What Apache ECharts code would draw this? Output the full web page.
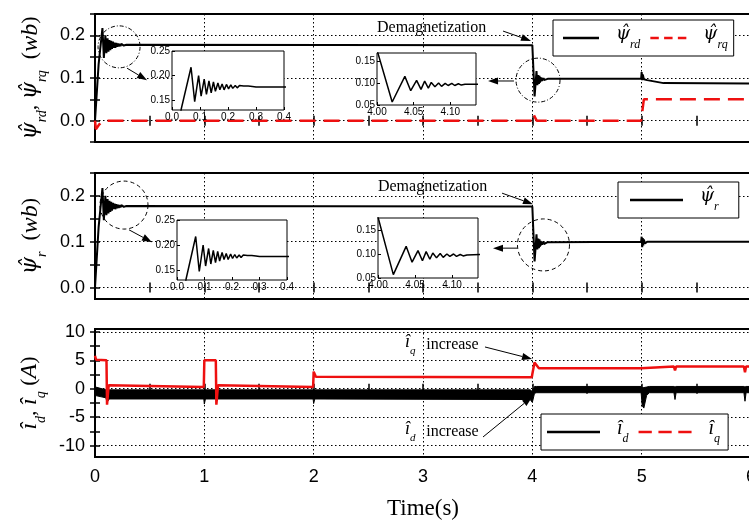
<!DOCTYPE html>
<html>
<head>
<meta charset="utf-8">
<script src="https://cdn.jsdelivr.net/npm/echarts@6/dist/echarts.min.js"></script>
<style>
html, body { margin: 0; padding: 0; background: #fff; }
#c { width: 749px; height: 521px; }
</style>
</head>
<body>
<div id="c"></div>
<script>
// ---------- data ----------
// Rotor flux during start-up (s, Wb)
const startT   = [0, 0.033, 0.068, 0.081, 0.095, 0.104, 0.115, 0.123, 0.132, 0.140, 0.148, 0.155, 0.164, 0.171, 0.179, 0.186, 0.195, 0.202, 0.210, 0.217, 0.226, 0.233, 0.241, 0.248, 0.256, 0.263, 0.272, 0.279, 0.287, 0.294, 0.300];
const startPsi = [0, 0.132, 0.217, 0.147, 0.200, 0.158, 0.193, 0.162, 0.189, 0.165, 0.187, 0.168, 0.185, 0.171, 0.183, 0.171, 0.182, 0.173, 0.181, 0.174, 0.180, 0.175, 0.180, 0.176, 0.179, 0.176, 0.179, 0.177, 0.178, 0.177, 0.177];
// Rotor flux during demagnetization at 4 s
const demagT   = [4.000, 4.0207, 4.038, 4.046, 4.054, 4.060, 4.065, 4.070, 4.074, 4.079, 4.084, 4.088, 4.093, 4.097, 4.102, 4.106, 4.111, 4.115, 4.120];
const demagPsi = [0.177, 0.057, 0.116, 0.083, 0.107, 0.086, 0.105, 0.089, 0.102, 0.092, 0.101, 0.093, 0.100, 0.095, 0.100, 0.095, 0.099, 0.096, 0.098];
// d-axis flux after demagnetization (load step at 5 s)
const rdTailT = [4.14, 4.995, 5.000, 5.005, 5.010, 5.020, 5.050, 5.200, 6.000];
const rdTailV = [0.098, 0.098, 0.114, 0.095, 0.108, 0.097, 0.095, 0.088, 0.087];
// flux magnitude after demagnetization
const rTailT = [4.14, 4.995, 5.000, 5.005, 5.010, 5.015, 5.020, 5.030, 5.050, 6.000];
const rTailV = [0.099, 0.100, 0.111, 0.088, 0.108, 0.092, 0.105, 0.096, 0.100, 0.100];
// q-axis flux
const rqT = [0, 0.008, 0.020, 0.035, 0.060, 0.100, 3.995, 4.010, 4.040, 4.995, 5.020, 6.000];
const rqV = [0, -0.020, -0.022, -0.010, -0.003, 0, 0, 0.015, 0, 0, 0.050, 0.050];
// d-axis current: envelope of the ripple band (A)
const idT    = [0, 0.005, 0.100, 0.110, 0.130, 0.995, 1.000, 1.010, 1.995, 2.000, 2.010, 3.980, 4.000, 4.020, 4.040, 4.995, 5.005, 5.020, 5.045, 5.070, 5.295, 5.305, 5.315, 5.935, 5.945, 5.955, 6.000];
const idHigh = [0, 0.3, -0.2, -0.2, -0.2, -0.2, -0.2, -0.2, -0.2, -0.2, -0.2, -0.2, -0.5, 0.4, 0.4, 0.4, 0.2, 0.2, 0.3, 0.4, 0.4, 0.3, 0.4, 0.4, 0.3, 0.4, 0.4];
const idLow  = [-0.3, -1.2, -1.6, -2.4, -1.8, -1.8, -2.7, -1.8, -1.8, -2.6, -1.8, -1.9, -2.4, -0.8, -0.7, -0.7, -3.0, -3.4, -1.2, -0.7, -0.7, -1.9, -0.7, -0.7, -2.2, -0.7, -0.7];
// q-axis current (A)
const iqT = [0, 0.010, 0.105, 0.110, 0.125, 0.140, 0.995, 1.000, 1.105, 1.110, 1.125, 1.140, 1.995, 2.000, 2.020, 3.995, 4.000, 4.020, 4.060, 4.995, 5.005, 5.295, 5.305, 5.315, 5.935, 5.945, 5.955, 6.000];
const iqV = [5.8, 5.1, 5.0, -2.8, 0.6, 0.3, 0.3, 5.0, 5.0, -2.8, 0.6, 0.3, 0.3, 3.0, 2.1, 2.0, 2.6, 4.6, 3.6, 3.6, 3.9, 3.9, 3.2, 3.9, 3.9, 2.9, 3.9, 3.9];

// axis ticks and labels
const timeLabels     = [0, 1, 2, 3, 4, 5, 6];
const timeTicks      = [0, 0.5, 1, 1.5, 2, 2.5, 3, 3.5, 4, 4.5, 5, 5.5, 6];
const fluxLabels     = [0, 0.1, 0.2];
const fluxTicksTop   = [-0.05, 0, 0.05, 0.1, 0.15, 0.2, 0.25];
const fluxTicksMid   = [0, 0.05, 0.1, 0.15, 0.2, 0.25];
const currentLabels  = [-10, -5, 0, 5, 10];
const currentTicks   = [-10, -7.5, -5, -2.5, 0, 2.5, 5, 7.5, 10];
const startLabelsX   = [0, 0.1, 0.2, 0.3, 0.4];
const startLabelsY   = [0.15, 0.20, 0.25];
const demagLabelsX   = [4.00, 4.05, 4.10];
const demagLabelsY   = [0.05, 0.10, 0.15];

// ---------- helpers ----------
const zip = (ts, vs) => ts.map((t, i) => [t, vs[i]]);
const psiRd = zip(startT, startPsi).concat(zip(demagT, demagPsi), zip(rdTailT, rdTailV));
const psiR  = zip(startT, startPsi).concat(zip(demagT, demagPsi), zip(rTailT, rTailV));
const psiRq = zip(rqT, rqV);
const iq    = zip(iqT, iqV);
const idBand = idT.map((t, i) => [t, idLow[i], idHigh[i]]);

const RED = '#ee1010';
const SERIF = 'Liberation Serif';
const GREEK = 'DejaVu Serif';
const SANS = 'Liberation Sans';

function mathRich(size) {
  return {
    g: { fontFamily: GREEK, fontStyle: 'italic', fontSize: size - 2, lineHeight: size + 6, verticalAlign: 'top', color: '#000' },
    m: { fontFamily: SERIF, fontStyle: 'italic', fontSize: size, lineHeight: size + 6, verticalAlign: 'top', color: '#000' },
    s: { fontFamily: SERIF, fontStyle: 'italic', fontSize: Math.round(size * 0.6), lineHeight: Math.round(size * 0.5), verticalAlign: 'bottom', color: '#000' },
    p: { fontFamily: SERIF, fontSize: size - 2, lineHeight: size + 6, verticalAlign: 'top', color: '#000' },
    u: { fontFamily: SERIF, fontStyle: 'italic', fontSize: size, lineHeight: size + 6, verticalAlign: 'top', color: '#000' }
  };
}

const PSI = 'ψ\u0302';
const dotted = { show: true, lineStyle: { color: '#000', width: 1, type: [1.5, 2.5] } };
const tickStyle = { color: '#000', width: 1.5 };

function tickOnlyAxis(extra, values) {
  return Object.assign({
    type: 'value',
    axisLine: { show: false },
    axisLabel: { show: false },
    splitLine: { show: false },
    axisTick: { show: true, inside: true, length: 5, lineStyle: tickStyle, customValues: values }
  }, extra);
}

// ---------- panels ----------
const panels = [
  { top: 14,  height: 128, min: -0.05, max: 0.25, split: 3, labels: fluxLabels, ticks: fluxTicksTop,
    fmt: v => v.toFixed(1), name: `{g|${PSI}}{s|rd}{p|, }{g|${PSI}}{s|rq}{p|  (}{u|wb}{p|)}` },
  { top: 173, height: 126, min: -0.025, max: 0.25, split: 3, labels: fluxLabels, ticks: fluxTicksMid,
    fmt: v => v.toFixed(1), name: `{g|${PSI}}{s|r}{p|  (}{u|wb}{p|)}` },
  { top: 329, height: 128, min: -12, max: 10.5, split: 4, labels: currentLabels, ticks: currentTicks,
    fmt: v => String(v), name: `{m|î}{s|d}{p|, }{m|î}{s|q}{p| (}{u|A}{p|)}` }
];

const grids = [], xAxes = [], yAxes = [];
panels.forEach((p, i) => {
  grids.push({ left: 95, top: p.top, width: 656, height: p.height, show: true,
               borderColor: '#000', borderWidth: 2, backgroundColor: 'transparent', outerBoundsMode: 'none' });
  p.xi = xAxes.length;
  xAxes.push({
    gridIndex: i, type: 'value', min: 0, max: 6, interval: 1, position: 'bottom',
    axisLine: { show: false }, axisTick: { show: false },
    axisLabel: { show: i === 2, customValues: timeLabels, color: '#000', fontFamily: SANS, fontSize: 18, margin: 11 },
    splitLine: dotted,
    name: i === 2 ? 'Time(s)' : '', nameLocation: 'middle', nameGap: 40,
    nameTextStyle: { fontFamily: SERIF, fontSize: 23, color: '#000' }
  });
  xAxes.push(tickOnlyAxis({ gridIndex: i, min: 0, max: 6, position: 'bottom' }, timeTicks));
  xAxes.push(tickOnlyAxis({ gridIndex: i, min: 0, max: 6, position: 'top' }, timeTicks));
  p.yi = yAxes.length;
  yAxes.push({
    gridIndex: i, type: 'value', min: p.min, max: p.max, splitNumber: p.split, position: 'left',
    axisLine: { show: false }, axisTick: { show: false },
    axisLabel: { customValues: p.labels, formatter: p.fmt, color: '#000', fontFamily: SANS, fontSize: 18, margin: 10 },
    splitLine: dotted,
    name: p.name, nameLocation: 'middle', nameRotate: 90, nameGap: 39,
    nameTextStyle: { rich: mathRich(24) }
  });
  yAxes.push(tickOnlyAxis({ gridIndex: i, min: p.min, max: p.max, position: 'left' }, p.ticks));
  yAxes.push(tickOnlyAxis({ gridIndex: i, min: p.min, max: p.max, position: 'right' }, p.ticks));
});

// ---------- zoomed insets ----------
const insets = [
  { left: 172, top: 51,  width: 112, height: 59, xr: [0, 0.4],     yr: [0.13, 0.25], xl: startLabelsX, yl: startLabelsY, xd: 1, data: psiRd },
  { left: 377, top: 53,  width: 99,  height: 52, xr: [4.0, 4.135], yr: [0.05, 0.17], xl: demagLabelsX, yl: demagLabelsY, xd: 2, data: psiRd },
  { left: 177, top: 220, width: 110, height: 60, xr: [0, 0.4],     yr: [0.13, 0.25], xl: startLabelsX, yl: startLabelsY, xd: 1, data: psiR },
  { left: 378, top: 218, width: 100, height: 60, xr: [4.0, 4.135], yr: [0.05, 0.175], xl: demagLabelsX, yl: demagLabelsY, xd: 2, data: psiR }
];
const insetLabel = { color: '#000', fontFamily: SANS, fontSize: 10 };
insets.forEach(s => {
  const g = grids.length;
  grids.push({ left: s.left, top: s.top, width: s.width, height: s.height, show: true, z: 5,
               borderColor: '#000', borderWidth: 1, backgroundColor: '#fff', outerBoundsMode: 'none' });
  s.xi = xAxes.length;
  xAxes.push({ gridIndex: g, type: 'value', min: s.xr[0], max: s.xr[1], z: 6,
    axisLine: { show: false }, splitLine: { show: false },
    axisTick: { show: true, inside: true, length: 3, customValues: s.xl, lineStyle: { color: '#000', width: 1 } },
    axisLabel: Object.assign({ customValues: s.xl, margin: 2, formatter: v => v.toFixed(s.xd) }, insetLabel) });
  s.yi = yAxes.length;
  yAxes.push({ gridIndex: g, type: 'value', min: s.yr[0], max: s.yr[1], z: 6,
    axisLine: { show: false }, splitLine: { show: false },
    axisTick: { show: true, inside: true, length: 3, customValues: s.yl, lineStyle: { color: '#000', width: 1 } },
    axisLabel: Object.assign({ customValues: s.yl, margin: 2, formatter: v => v.toFixed(2) }, insetLabel) });
});

// ---------- series ----------
const base = { type: 'line', symbol: 'none', animation: false, smooth: false };
const series = [
  Object.assign({}, base, { name: 'ψrd', xAxisIndex: panels[0].xi, yAxisIndex: panels[0].yi, data: psiRd,
    lineStyle: { color: '#000', width: 2 }, itemStyle: { color: '#000' } }),
  Object.assign({}, base, { name: 'ψrq', xAxisIndex: panels[0].xi, yAxisIndex: panels[0].yi, data: psiRq,
    lineStyle: { color: RED, width: 2.5, type: [16, 8] }, itemStyle: { color: RED } }),
  Object.assign({}, base, { name: 'ψr', xAxisIndex: panels[1].xi, yAxisIndex: panels[1].yi, data: psiR,
    lineStyle: { color: '#000', width: 2 }, itemStyle: { color: '#000' } }),
  {
    // ripple band of the d-axis current, filled between its lower and upper envelope
    type: 'custom', name: 'îd', xAxisIndex: panels[2].xi, yAxisIndex: panels[2].yi,
    data: idBand, encode: { x: 0, y: [1, 2] }, clip: true, itemStyle: { color: '#000' }, z: 2,
    renderItem: (params, api) => {
      if (params.dataIndex !== 0) return null;
      const upper = idBand.map(d => api.coord([d[0], d[2]]));
      const lower = idBand.map(d => api.coord([d[0], d[1]])).reverse();
      return { type: 'polygon', shape: { points: upper.concat(lower) },
               style: { fill: '#000', stroke: '#000', lineWidth: 1 } };
    }
  },
  Object.assign({}, base, { name: 'îq', xAxisIndex: panels[2].xi, yAxisIndex: panels[2].yi, data: iq, z: 3,
    lineStyle: { color: RED, width: 2.5 }, itemStyle: { color: RED } })
];
insets.forEach((s, k) => {
  series.push(Object.assign({}, base, { name: 'zoom' + k, xAxisIndex: s.xi, yAxisIndex: s.yi, data: s.data, z: 7,
    lineStyle: { color: '#000', width: 1.5 } }));
});

// ---------- legends ----------
const legendText = {
  'ψrd': `{g|${PSI}}{s|rd}`, 'ψrq': `{g|${PSI}}{s|rq}`, 'ψr': `{g|${PSI}}{s|r}`,
  'îd': '{m|î}{s|d}', 'îq': '{m|î}{s|q}'
};
const legendRich = mathRich(20);
legendRich.g.padding = [0, 0, 0, 12];
legendRich.m.padding = [0, 0, 0, 12];
const SOLID_ICON = 'path://M0,0H40V3H0Z';
const DASH_ICON_A = 'path://M0,0H8V3H0Z M13,0H21V3H13Z M26,0H34V3H26Z';
const DASH_ICON_B = 'path://M0,0H12V3H0Z M18,0H30V3H18Z M36,0H48V3H36Z';
function legendBox(extra) {
  return Object.assign({
    orient: 'horizontal', selectedMode: false, z: 20, symbolKeepAspect: false,
    itemHeight: 2.5,
    borderColor: '#000', borderWidth: 1, borderRadius: 0, backgroundColor: '#fff',
    formatter: n => legendText[n], textStyle: { rich: legendRich }
  }, extra);
}
const legends = [
  legendBox({ left: 553, top: 20, itemWidth: 36, itemGap: 10, padding: [5, 6, 5, 10],
    data: [{ name: 'ψrd', icon: SOLID_ICON, itemStyle: { color: '#000' } },
           { name: 'ψrq', icon: DASH_ICON_A, itemStyle: { color: RED } }] }),
  legendBox({ left: 618, top: 182, itemWidth: 53, itemGap: 10, padding: [5, 20, 5, 12],
    data: [{ name: 'ψr', icon: SOLID_ICON, itemStyle: { color: '#000' } }] }),
  legendBox({ left: 541, top: 414, itemWidth: 53, itemGap: 10, padding: [5, 8, 5, 6],
    data: [{ name: 'îd', icon: SOLID_ICON, itemStyle: { color: '#000' } },
           { name: 'îq', icon: DASH_ICON_B, itemStyle: { color: RED } }] })
];

const chart = echarts.init(document.getElementById('c'));
chart.setOption({
  animation: false,
  backgroundColor: '#fff',
  textStyle: { fontFamily: SANS },
  grid: grids,
  xAxis: xAxes,
  yAxis: yAxes,
  legend: legends,
  series: series
});

// ---------- annotations (anchored in data units) ----------
const toPx = (g, t, v) => chart.convertToPixel({ xAxisIndex: panels[g].xi, yAxisIndex: panels[g].yi }, [t, v]);

function arrow(p0, p1) {
  const dx = p1[0] - p0[0], dy = p1[1] - p0[1];
  const len = Math.hypot(dx, dy), ux = dx / len, uy = dy / len;
  const hl = 10, hw = 3.5;
  const bx = p1[0] - ux * hl, by = p1[1] - uy * hl;
  return [
    { type: 'line', z: 30, silent: true, shape: { x1: p0[0], y1: p0[1], x2: bx, y2: by }, style: { stroke: '#000', lineWidth: 1 } },
    { type: 'polygon', z: 30, silent: true,
      shape: { points: [[p1[0], p1[1]], [bx - uy * hw, by + ux * hw], [bx + uy * hw, by - ux * hw]] },
      style: { fill: '#000' } }
  ];
}
function ring(c, r, dash) {
  return { type: 'circle', z: 30, silent: true, shape: { cx: c[0], cy: c[1], r: r },
           style: { fill: 'none', stroke: '#000', lineWidth: 1, lineDash: dash } };
}
function label(p, text, size) {
  return { type: 'text', z: 30, silent: true, x: p[0], y: p[1],
           style: { text: text, fontFamily: SERIF, fontSize: size, fill: '#000', align: 'left', verticalAlign: 'middle', rich: mathRich(18) } };
}

const dashDot = [4, 2, 1, 2];
const dashed = [4, 3];
let g = [];
// top panel
g.push(ring(toPx(0, 0.22, 0.173), 21, dashDot));
g = g.concat(arrow(toPx(0, 0.293, 0.123), toPx(0, 0.476, 0.095)));
g.push(ring(toPx(0, 4.052, 0.095), 22, dashDot));
g = g.concat(arrow(toPx(0, 3.832, 0.093), toPx(0, 3.595, 0.093)));
g.push(label(toPx(0, 2.579, 0.217), 'Demagnetization', 16));
g = g.concat(arrow(toPx(0, 3.732, 0.210), toPx(0, 3.988, 0.187)));
// middle panel
g.push(ring(toPx(1, 0.265, 0.180), 24, dashed));
g = g.concat(arrow(toPx(1, 0.311, 0.126), toPx(1, 0.521, 0.099)));
g.push(ring(toPx(1, 4.102, 0.093), 26, dashed));
g = g.concat(arrow(toPx(1, 3.86, 0.086), toPx(1, 3.64, 0.086)));
g.push(label(toPx(1, 2.588, 0.219), 'Demagnetization', 16));
g = g.concat(arrow(toPx(1, 3.723, 0.206), toPx(1, 4.006, 0.182)));
// bottom panel
g.push(label(toPx(2, 2.835, 7.7), '{m|î}{s|q}', 18));
g.push(label(toPx(2, 3.03, 7.7), 'increase', 16));
g = g.concat(arrow(toPx(2, 3.567, 7.34), toPx(2, 3.997, 5.23)));
g.push(label(toPx(2, 2.835, -7.6), '{m|î}{s|d}', 18));
g.push(label(toPx(2, 3.03, -7.6), 'increase', 16));
g = g.concat(arrow(toPx(2, 3.549, -8.48), toPx(2, 3.997, -1.45)));

chart.setOption({ graphic: g });
</script>
</body>
</html>
